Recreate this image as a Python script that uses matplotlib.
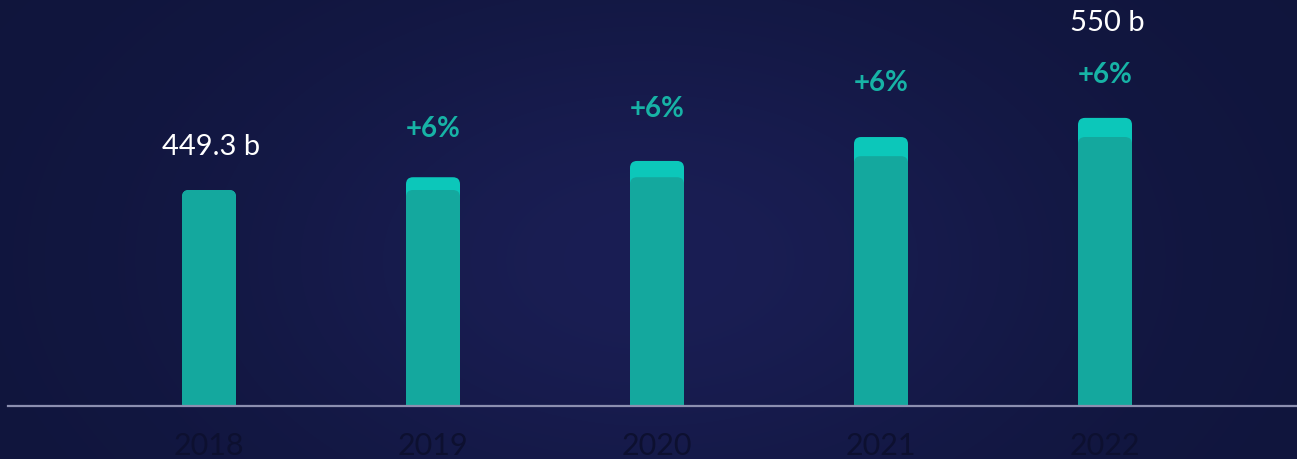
import numpy as np
import matplotlib.pyplot as plt
from matplotlib.font_manager import FontProperties
from matplotlib.patches import FancyBboxPatch

years = ["2018", "2019", "2020", "2021", "2022"]
base_values = [449.3, 449.3, 476, 520, 560]    # darker segment (previous level)
total_values = [449.3, 476, 510, 560, 600]     # full bar incl. growth
growth_labels = ["", "+6%", "+6%", "+6%", "+6%"]
value_labels = {0: "449.3 b", 4: "550 b"}

BG = "#141947"
DARK_TEAL = "#14a89e"
LIGHT_TEAL = "#0cc7ba"

fig = plt.figure(figsize=(12.97, 4.59), dpi=100)
fig.patch.set_facecolor(BG)

# subtle background glow
yy, xx = np.mgrid[0:459, 0:1297]
glow = np.exp(-(((xx - 650) / 420.0) ** 2 + ((yy - 260) / 260.0) ** 2))
bg = np.zeros((459, 1297, 3))
c0 = np.array([16, 21, 60]) / 255.0
c1 = np.array([26, 30, 84]) / 255.0
bg[:] = c0 + (c1 - c0) * glow[..., None]
fig.figimage(bg, 0, 0, zorder=0)

ax = fig.add_axes([0, 1 - 405 / 459, 1, 405 / 459], zorder=2)
ax.set_facecolor("none")
ax.set_xlim(-209 / 224, (1297 - 209) / 224)
ax.set_ylim(0, 405 * 449.3 / 215)
ax.axis("off")

bar_w = 54 / 224
rad_x = 7 / 224
rad_y = 7 * 449.3 / 215


def rounded_bar(x, h, color):
    p = FancyBboxPatch((x - bar_w / 2 + rad_x, -50), bar_w - 2 * rad_x, h + 50 - rad_y,
                       boxstyle=f"round,pad={rad_x}", mutation_aspect=rad_y / rad_x,
                       facecolor=color, edgecolor="none", zorder=3)
    ax.add_patch(p)


for i in range(len(years)):
    rounded_bar(i, total_values[i], LIGHT_TEAL)
    rounded_bar(i, base_values[i], DARK_TEAL)

# baseline
fig.add_artist(plt.Line2D([8 / 1297, 1], [1 - 405.5 / 459] * 2, color="#8c8fb0", lw=1.6, zorder=5))

f_val = FontProperties(family="Lato", size=21)
f_pct = FontProperties(family="Lato", weight="bold", size=20)
f_year = FontProperties(family="Lato", size=22)

# growth labels
growth_y = [0, 129, 109, 83, 75]
for i, g in enumerate(growth_labels):
    if g:
        fig.text((209 + 224 * i) / 1297, 1 - growth_y[i] / 459, g, color="#17b3a6",
                 fontproperties=f_pct, ha="center", va="center", zorder=6)

label_y = {0: 147, 4: 23}
for i, lab in value_labels.items():
    fig.text((211 + 224 * i) / 1297, 1 - label_y[i] / 459, lab, color="white",
             fontproperties=f_val, ha="center", va="center", zorder=6)

for i, yr in enumerate(years):
    fig.text((209 + 224 * i) / 1297, 1 - 446 / 459, yr, color="#0d1030",
             fontproperties=f_year, ha="center", va="center", zorder=6)

fig.savefig("out.png", dpi=100, facecolor=BG)
